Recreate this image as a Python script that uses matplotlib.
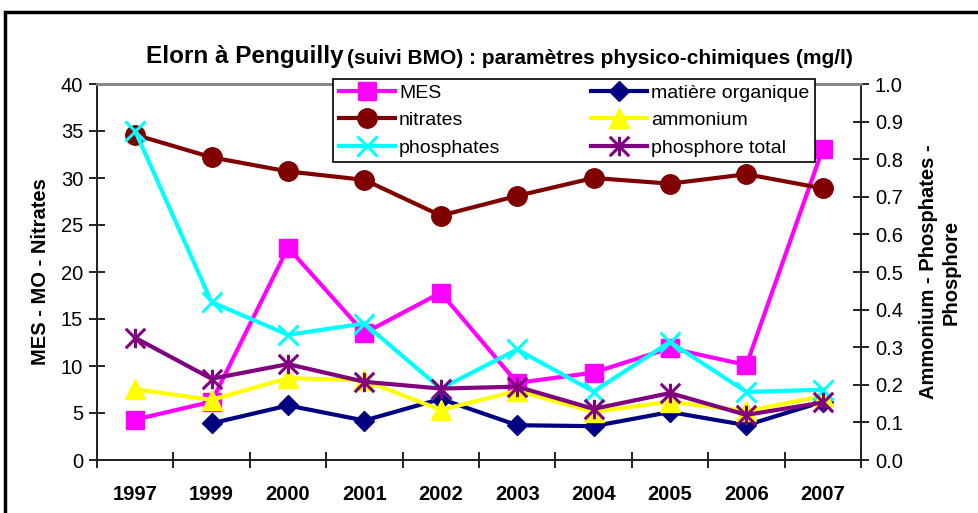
import numpy as np
import matplotlib.pyplot as plt
from matplotlib.path import Path
from matplotlib.patches import Rectangle

plt.rcParams['font.family'] = ['Liberation Sans', 'DejaVu Sans']

# data
annees = ['1997', '1999', '2000', '2001', '2002', '2003', '2004', '2005', '2006', '2007']
mes = [4.3, 6.2, 22.6, 13.5, 17.8, 8.2, 9.3, 11.9, 10.1, 33.1]
mo = [np.nan, 3.9, 5.8, 4.2, 6.5, 3.7, 3.6, 5.1, 3.7, 6.2]
nitrates = [34.6, 32.2, 30.7, 29.8, 26.0, 28.1, 30.0, 29.4, 30.4, 28.9]
ammonium = [0.188, 0.160, 0.218, 0.212, 0.133, 0.184, 0.128, 0.155, 0.130, 0.170]
phosphates = [0.875, 0.420, 0.333, 0.363, 0.190, 0.294, 0.182, 0.314, 0.181, 0.187]
phosphore_total = [0.325, 0.216, 0.255, 0.208, 0.190, 0.195, 0.136, 0.178, 0.120, 0.153]

# asterisk marker like Excel (x + vertical bar)
M, L = Path.MOVETO, Path.LINETO
etoile = Path([(0, -1), (0, 1), (-1, -1), (1, 1), (-1, 1), (1, -1)],
              [M, L, M, L, M, L])

fig = plt.figure(figsize=(9.79, 5.13), dpi=100)
ax = fig.add_axes([97 / 979, 1 - 460 / 513, (861 - 97) / 979, (460 - 84) / 513])
ax2 = ax.twinx()

x = np.arange(len(annees))
lw = 3
h_mes, = ax.plot(x, mes, color='#FF00FF', lw=lw, marker='s', ms=13, label='MES')
h_mo, = ax.plot(x, mo, color='#000080', lw=lw, marker='D', ms=10, label='matière organique')
h_nit, = ax.plot(x, nitrates, color='#800000', lw=lw, marker='o', ms=14, label='nitrates')
h_amm, = ax2.plot(x, ammonium, color='#FFFF00', lw=lw, marker='^', ms=14, label='ammonium')
h_pho, = ax2.plot(x, phosphates, color='#00FFFF', lw=lw, marker='x', ms=14, mew=2.2, label='phosphates')
h_pt, = ax2.plot(x, phosphore_total, color='#800080', lw=lw, marker=etoile, ms=14, mew=2.2,
                 label='phosphore total')

ax.set_xlim(-0.5, len(annees) - 0.5)
ax.set_ylim(0, 40)
ax2.set_ylim(0, 1.0)
ax.set_yticks(np.arange(0, 41, 5))
ax2.set_yticks(np.arange(0, 1.01, 0.1))
ax2.set_yticklabels(['%.1f' % v for v in np.arange(0, 1.01, 0.1)])
ax.set_xticks(x)
ax.set_xticklabels(annees, fontweight='bold', fontsize=14.5)
ax.set_xticks(np.arange(-0.5, len(annees)), minor=True)
ax.tick_params(axis='x', which='major', length=0, pad=18)
ax.tick_params(axis='x', which='minor', direction='inout', length=12, width=1.2)
ax.tick_params(axis='y', direction='inout', length=12, width=1.2, labelsize=14.5, pad=4)
ax2.tick_params(axis='y', direction='inout', length=12, width=1.2, labelsize=14.5, pad=4)

for a in (ax, ax2):
    for s in ('left', 'right', 'bottom'):
        a.spines[s].set_linewidth(1.3)
        a.spines[s].set_color('#222222')
    a.spines['top'].set_color('#888888')
    a.spines['top'].set_linewidth(2)

ax.set_ylabel('MES - MO - Nitrates', fontweight='bold', fontsize=14.5, labelpad=8)
fig.text(940 / 979, 1 - 272 / 513, 'Ammonium - Phosphates -\nPhosphore', rotation=90,
         ha='center', va='center', multialignment='center', fontweight='bold',
         fontsize=14.5, linespacing=1.2)

fig.text(344 / 979, 1 - 57 / 513, 'Elorn à Penguilly', ha='right', va='center',
         fontweight='bold', fontsize=17.5)
fig.text(347 / 979, 1 - 58 / 513, '(suivi BMO) : paramètres physico-chimiques (mg/l)',
         ha='left', va='center', fontweight='bold', fontsize=15)

hands = [h_mes, h_nit, h_pho, h_mo, h_amm, h_pt]
leg = ax2.legend(hands, [h.get_label() for h in hands], ncol=2, loc='center',
                 bbox_to_anchor=(333 / 979, 1 - 163 / 513, 482 / 979, 85 / 513),
                 bbox_transform=fig.transFigure, mode='expand', borderaxespad=0,
                 fontsize=14, handlelength=2.9, handletextpad=0.2, labelspacing=0.5,
                 fancybox=False, framealpha=1, edgecolor='black', columnspacing=1.0,
                 borderpad=0.3)
leg.get_frame().set_linewidth(1.2)
leg.set_zorder(10)

fig.patches.append(Rectangle((5 / 979, -0.05), 1.2, 1 - 12 / 513 + 0.05, transform=fig.transFigure,
                             fill=False, edgecolor='black', lw=2.5))

fig.savefig('out.png', dpi=100)
